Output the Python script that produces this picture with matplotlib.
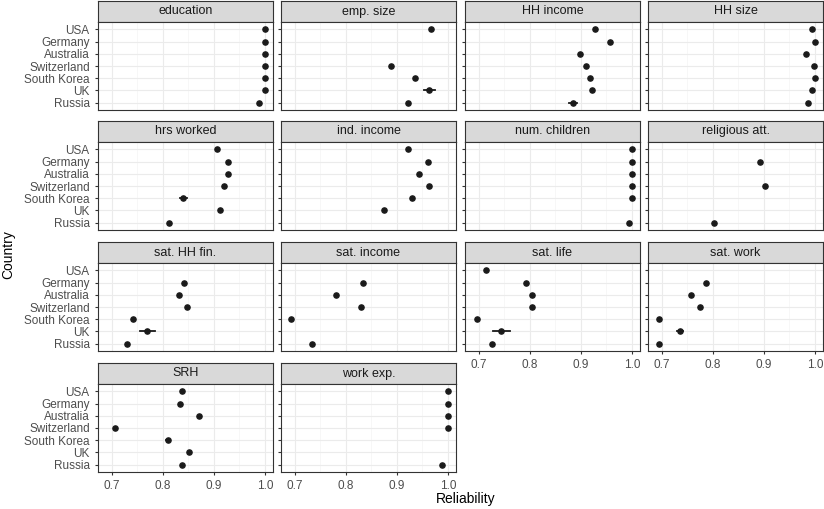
import numpy as np
import matplotlib.pyplot as plt

countries = ["USA", "Germany", "Australia", "Switzerland", "South Korea", "UK", "Russia"]
variables = ["education", "emp. size", "HH income", "HH size",
             "hrs worked", "ind. income", "num. children", "religious att.",
             "sat. HH fin.", "sat. income", "sat. life", "sat. work",
             "SRH", "work exp."]

nan = np.nan
# reliability per variable, in country order above (nan = not available)
values = {
    "education":      [1.0, 1.0, 1.0, 1.0, 1.0, 1.0, 0.988],
    "emp. size":      [0.967, nan, nan, 0.888, 0.935, 0.964, 0.922],
    "HH income":      [0.927, 0.957, 0.899, 0.910, 0.918, 0.921, 0.885],
    "HH size":        [0.994, 1.0, 0.982, 0.999, 1.0, 0.994, 0.987],
    "hrs worked":     [0.907, 0.927, 0.927, 0.920, 0.840, 0.912, 0.813],
    "ind. income":    [0.922, 0.961, 0.943, 0.964, 0.929, 0.874, nan],
    "num. children":  [1.0, 1.0, 1.0, 1.0, 1.0, nan, 0.994],
    "religious att.": [nan, 0.893, nan, 0.902, nan, nan, 0.803],
    "sat. HH fin.":   [nan, 0.842, 0.832, 0.848, 0.741, 0.770, 0.730],
    "sat. income":    [nan, 0.833, 0.781, 0.830, 0.692, nan, 0.734],
    "sat. life":      [0.714, 0.793, 0.804, 0.804, 0.696, 0.744, 0.726],
    "sat. work":      [nan, 0.787, 0.757, 0.774, 0.694, 0.735, 0.695],
    "SRH":            [0.837, 0.834, 0.870, 0.706, 0.810, 0.852, 0.837],
    "work exp.":      [1.0, 1.0, 1.0, 1.0, nan, nan, 0.988],
}
# half-width of the visible error bars: (variable, country, half-width)
errors = [("emp. size", "UK", 0.010), ("HH income", "Russia", 0.008),
          ("hrs worked", "South Korea", 0.007), ("sat. HH fin.", "UK", 0.015),
          ("sat. life", "UK", 0.017), ("sat. work", "UK", 0.006),
          ("SRH", "South Korea", 0.004), ("sat. work", "Russia", 0.003)]
xticks = [0.7, 0.8, 0.9, 1.0]

W, H = 824, 509
fig = plt.figure(figsize=(W / 100, H / 100), dpi=100)
plt.rcParams['font.family'] = ['Liberation Sans', 'DejaVu Sans']

col_left = [98, 281, 465, 648]
pw = 175
row_top = [1, 121, 242, 363]
sh, ph = 21, 88
ypos = np.arange(len(countries))

for k, var in enumerate(variables):
    r, c = divmod(k, 4)
    x0, y0 = col_left[c], row_top[r]
    # strip
    sax = fig.add_axes([x0 / W, 1 - (y0 + sh) / H, pw / W, sh / H])
    sax.set_facecolor("#d9d9d9")
    sax.set_xticks([]); sax.set_yticks([])
    for s in sax.spines.values():
        s.set_color("#333333"); s.set_linewidth(0.8)
    sax.text(0.5, 0.5, var, ha="center", va="center", fontsize=9, color="#1a1a1a",
             transform=sax.transAxes)
    ax = fig.add_axes([x0 / W, 1 - (y0 + sh + ph) / H, pw / W, ph / H])
    vals = np.array(values[var], dtype=float)
    for var_e, cn, hw in errors:
        if var_e == var:
            i = countries.index(cn)
            ax.plot([vals[i] - hw, vals[i] + hw], [i, i], color="#1a1a1a", lw=1.3, zorder=3)
    ax.scatter(vals, ypos, s=14, color="#1a1a1a", zorder=4)
    ax.set_xlim(0.673, 1.016)
    ax.set_ylim(len(countries) - 0.4, -0.6)
    ax.set_xticks(xticks)
    ax.set_xticks([0.75, 0.85, 0.95], minor=True)
    ax.set_yticks(ypos)
    ax.grid(True, which="major", color="#ebebeb", lw=0.8)
    ax.grid(True, which="minor", axis="x", color="#f4f4f4", lw=0.5)
    ax.set_axisbelow(True)
    for s in ax.spines.values():
        s.set_color("#333333"); s.set_linewidth(0.8)
    ax.tick_params(which="both", length=0, labelsize=8.5, labelcolor="#4d4d4d")
    ax.tick_params(which="major", length=2.5, color="#333333")
    ax.tick_params(which="minor", length=0)
    if c == 0:
        ax.set_yticklabels(countries)
    else:
        ax.set_yticklabels([])
    bottom = (r == 3) or (r == 2 and c >= 2)
    if bottom:
        ax.set_xticklabels(["0.7", "0.8", "0.9", "1.0"])
    else:
        ax.set_xticklabels([])
        ax.tick_params(axis="x", length=0)

fig.text(466 / W, 1 - 499 / H, "Reliability", ha="center", va="center", fontsize=10)
fig.text(8 / W, 0.5, "Country", rotation=90, ha="center", va="center", fontsize=10)
fig.savefig("out.png", dpi=100)
